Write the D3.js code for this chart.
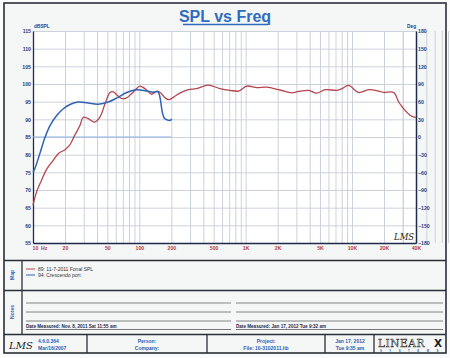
<!DOCTYPE html>
<html>
<head>
<meta charset="utf-8">
<script src="https://cdn.jsdelivr.net/npm/d3@7"></script>
<style>
  body { margin: 0; background: #ffffff; }
  svg { display: block; font-family: "Liberation Sans", Arial, sans-serif; }
</style>
</head>
<body>
<svg id="chart" width="450" height="358"></svg>
<script>
// measured curves
const freqRed = [10, 10.8, 12, 13.5, 15.5, 17.5, 20, 22, 24.8, 27.7, 29.7, 33, 38, 42.7, 47.6, 53, 57, 62, 68, 75, 84, 95, 101, 113, 131, 148, 162, 176, 192, 210, 241, 289, 345, 443, 572, 712, 856, 1025, 1276, 1580, 2100, 2720, 3140, 3935, 4645, 5620, 7225, 8060, 9280, 11550, 14350, 17850, 19900, 24700, 27500, 30600, 35400, 40000];
const splRed = [65.7, 69.4, 72.7, 76, 78.4, 80.4, 81.4, 82.6, 85.6, 88.3, 90.6, 90.2, 89.2, 90.7, 94.4, 97.6, 97.8, 96.8, 95.9, 96.0, 97.2, 98.8, 99.4, 98.7, 97.1, 98.0, 97.2, 96.0, 95.6, 96.3, 97.4, 98.4, 98.7, 99.7, 98.7, 98.2, 98.0, 99.4, 99.0, 99.1, 98.3, 97.5, 97.9, 98.2, 97.4, 98.4, 98.2, 98.7, 99.6, 97.6, 98.4, 98.0, 97.6, 97.6, 94.9, 93.0, 91.1, 90.5];

const freqBlue = [10, 10.4, 11.6, 13, 14.5, 16.7, 19.3, 22.3, 26.6, 33, 41, 51, 61, 76, 94, 117, 135, 150, 156, 160, 165, 172, 181, 194, 202];
const splBlue = [75, 76, 80.3, 85, 88.3, 91.1, 93, 94.2, 94.9, 94.6, 94.3, 94.9, 96, 97.6, 98.4, 98, 97.7, 97.8, 96.4, 94.4, 91.8, 90.3, 89.9, 89.7, 90.1];

const freqRef = [10, 200];
const splRef = [85, 85];

const splTicks = [55, 60, 65, 70, 75, 80, 85, 90, 95, 100, 105, 110, 115];
const degTicks = [-180, -150, -120, -90, -60, -30, 0, 30, 60, 90, 120, 150, 180];
const freqTicks = [10, 20, 50, 100, 200, 500, 1000, 2000, 5000, 10000, 20000, 40000];
const freqLabels = ["10", "20", "50", "100", "200", "500", "1K", "2K", "5K", "10K", "20K", "40K"];

const legendNames = ["89: 11-7-2011 Fonal SPL", "94: Crescendo port"];

const svg = d3.select("#chart");
const navy = "#1f3f86";
const blueText = "#2b5fb4";
const red = "#b4474e";
const blue = "#2f62b4";

// page
svg.append("rect").attr("x", 0).attr("y", 0).attr("width", 450).attr("height", 358).attr("fill", "#fbfbfb");
svg.append("rect").attr("x", 4).attr("y", 3).attr("width", 442).attr("height", 350)
  .attr("fill", "#f5f7f7").attr("stroke", "#2a2e36").attr("stroke-width", 1.6);

// title
svg.append("text").attr("x", 225).attr("y", 22).attr("text-anchor", "middle")
  .attr("font-size", 16).attr("font-weight", "bold").attr("fill", "#2f6cc0")
  .text("SPL vs Freq");
svg.append("line").attr("x1", 183).attr("x2", 268).attr("y1", 24.5).attr("y2", 24.5)
  .attr("stroke", "#2f6cc0").attr("stroke-width", 1.3);

const plotLeft = 33, plotRight = 416, plotTop = 31, plotBottom = 243;
const x = d3.scaleLog().domain([10, 40000]).range([plotLeft, plotRight]);
const y = d3.scaleLinear().domain([55, 115]).range([plotBottom, plotTop]);
const yDeg = d3.scaleLinear().domain([-180, 180]).range([plotBottom, plotTop]);

svg.append("rect").attr("x", plotLeft).attr("y", plotTop)
  .attr("width", plotRight - plotLeft).attr("height", plotBottom - plotTop).attr("fill", "#ffffff");

// grid
const gridFreqs = [];
for (let dec = 10; dec <= 10000; dec *= 10) {
  for (let k = 1; k <= 9; k++) gridFreqs.push(dec * k);
}
gridFreqs.push(20000, 30000, 40000);

svg.append("g")
  .attr("transform", `translate(0,${plotBottom})`)
  .call(d3.axisBottom(x).tickValues(gridFreqs).tickSize(-(plotBottom - plotTop)).tickFormat(""))
  .call(g => g.select(".domain").remove())
  .call(g => g.selectAll("line").attr("stroke", "#ccd2db").attr("stroke-width", 1));

svg.append("g")
  .attr("transform", `translate(${plotLeft},0)`)
  .call(d3.axisLeft(y).tickValues(splTicks).tickSize(-(plotRight - plotLeft)).tickFormat(""))
  .call(g => g.select(".domain").remove())
  .call(g => g.selectAll("line").attr("stroke", "#ccd2db").attr("stroke-width", 1));

// axes
svg.append("g")
  .attr("transform", `translate(${plotLeft},0)`)
  .call(d3.axisLeft(y).tickValues(splTicks).tickSize(0).tickPadding(2))
  .call(g => g.select(".domain").attr("stroke", "#1d2a4a").attr("stroke-width", 1.3))
  .call(g => g.selectAll("text").attr("font-size", 5.2).attr("font-weight", "bold").attr("fill", navy).attr("font-family", "Liberation Sans, Arial, sans-serif"));

svg.append("g")
  .attr("transform", `translate(${plotRight},0)`)
  .call(d3.axisRight(yDeg).tickValues(degTicks).tickSize(0).tickPadding(2))
  .call(g => g.select(".domain").attr("stroke", "#1d2a4a").attr("stroke-width", 1.5))
  .call(g => g.selectAll("text").attr("font-size", 5.2).attr("font-weight", "bold").attr("fill", navy).attr("font-family", "Liberation Sans, Arial, sans-serif"));

svg.append("g")
  .attr("transform", `translate(0,${plotBottom})`)
  .call(d3.axisBottom(x).tickValues(freqTicks).tickSize(0).tickPadding(3)
    .tickFormat((d, i) => freqLabels[i]))
  .call(g => g.select(".domain").attr("stroke", "#1d2a4a").attr("stroke-width", 1.3))
  .call(g => g.selectAll("text").attr("font-size", 5.2).attr("font-weight", "bold").attr("fill", "#b23a3f").attr("font-family", "Liberation Sans, Arial, sans-serif"))
  .call(g => g.selectAll(".tick").filter(d => d === 10).select("text").attr("text-anchor", "start").attr("dx", -1));

svg.append("text").attr("x", 41).attr("y", 249.5).attr("font-size", 5.2).attr("font-weight", "bold")
  .attr("fill", "#b23a3f").text("Hz");

svg.append("text").attr("x", 34).attr("y", 28).attr("font-size", 4.8).attr("font-weight", "bold")
  .attr("fill", navy).text("dBSPL");
svg.append("text").attr("x", 407).attr("y", 28).attr("font-size", 4.8).attr("font-weight", "bold")
  .attr("fill", navy).text("Deg");

// curves
const line = d3.line()
  .x(d => x(d[0]))
  .y(d => y(d[1]))
  .curve(d3.curveCatmullRom.alpha(0.5));

svg.append("path").datum(d3.zip(freqRef, splRef)).attr("d", line)
  .attr("fill", "none").attr("stroke", "#8db2e6").attr("stroke-width", 1.2);
svg.append("path").datum(d3.zip(freqRed, splRed)).attr("d", line)
  .attr("fill", "none").attr("stroke", red).attr("stroke-width", 1.3);
svg.append("path").datum(d3.zip(freqBlue, splBlue)).attr("d", line)
  .attr("fill", "none").attr("stroke", blue).attr("stroke-width", 1.5);

// handwritten mark in the plot corner
svg.append("text").attr("x", 394).attr("y", 240).attr("font-size", 8.5)
  .attr("font-family", "DejaVu Serif, serif").attr("font-style", "italic").attr("fill", "#222")
  .text("LMS");

// section frames
const frame = "#2a2e36";
[260.5, 290.5, 334.5].forEach(yy => {
  svg.append("line").attr("x1", 4).attr("x2", 446).attr("y1", yy).attr("y2", yy)
    .attr("stroke", frame).attr("stroke-width", 1.6);
});
svg.append("line").attr("x1", 22).attr("x2", 22).attr("y1", 260.5).attr("y2", 334.5)
  .attr("stroke", frame).attr("stroke-width", 1.3);
[87, 207, 325, 374].forEach(xx => {
  svg.append("line").attr("x1", xx).attr("x2", xx).attr("y1", 334.5).attr("y2", 353)
    .attr("stroke", frame).attr("stroke-width", 1.3);
});

// side labels
[["Map", 275], ["Notes", 312]].forEach(([t, cy]) => {
  svg.append("text").attr("transform", `translate(14,${cy}) rotate(-90)`)
    .attr("text-anchor", "middle").attr("font-size", 5).attr("font-weight", "bold")
    .attr("fill", blueText).text(t);
});

// legend
const legColors = [red, blue];
legendNames.forEach((name, i) => {
  const ly = 269 + i * 6;
  svg.append("line").attr("x1", 26).attr("x2", 35).attr("y1", ly).attr("y2", ly)
    .attr("stroke", legColors[i]).attr("stroke-width", 1);
  svg.append("text").attr("x", 38).attr("y", ly + 1.8).attr("font-size", 5)
    .attr("fill", "#333").text(name);
});

// notes lines
[303, 312, 321].forEach(yy => {
  svg.append("line").attr("x1", 26).attr("x2", 231).attr("y1", yy).attr("y2", yy)
    .attr("stroke", "#666").attr("stroke-width", 0.8);
  svg.append("line").attr("x1", 236).attr("x2", 443).attr("y1", yy).attr("y2", yy)
    .attr("stroke", "#666").attr("stroke-width", 0.8);
});
svg.append("line").attr("x1", 26).attr("x2", 231).attr("y1", 329.5).attr("y2", 329.5)
  .attr("stroke", "#555").attr("stroke-width", 0.8);
svg.append("line").attr("x1", 236).attr("x2", 443).attr("y1", 329.5).attr("y2", 329.5)
  .attr("stroke", "#555").attr("stroke-width", 0.8);
svg.append("text").attr("x", 26).attr("y", 328).attr("font-size", 4.6).attr("font-weight", "bold")
  .attr("fill", "#1d2a4a").text("Date Measured: Nov. 8, 2011  Sat 11:55 am");
svg.append("text").attr("x", 236).attr("y", 328).attr("font-size", 4.6).attr("font-weight", "bold")
  .attr("fill", "#1d2a4a").text("Date Measured: Jan 17, 2012  Tue 9:32 am");

// footer
svg.append("text").attr("x", 9).attr("y", 349).attr("font-size", 10)
  .attr("font-family", "DejaVu Serif, serif").attr("font-style", "italic").attr("fill", "#222")
  .text("LMS");
const foot = (tx, ty, t, anchor) => svg.append("text").attr("x", tx).attr("y", ty)
  .attr("text-anchor", anchor || "middle").attr("font-size", 5).attr("font-weight", "bold")
  .attr("fill", blueText).text(t);
foot(38, 343, "4.6.0.364", "start");
foot(38, 350, "Mar/16/2007", "start");
foot(147, 343, "Person:");
foot(147, 350, "Company:");
foot(266, 343, "Project:");
foot(266, 350, "File: 10-3102011.lib");
foot(350, 343, "Jan 17, 2012");
foot(350, 350, "Tue  9:35 am");

// Linearx logo
svg.append("text").attr("x", 378).attr("y", 347).attr("font-size", 10.5)
  .attr("font-family", "DejaVu Serif, serif").attr("fill", "none")
  .attr("stroke", "#333").attr("stroke-width", 0.5).attr("letter-spacing", 0.6)
  .text("LINEAR");
svg.append("text").attr("x", 434).attr("y", 347).attr("font-size", 10.5).attr("font-weight", "bold")
  .attr("font-family", "DejaVu Sans, sans-serif").attr("fill", "#222").text("X");
svg.append("text").attr("x", 380).attr("y", 351.5).attr("font-size", 2.8).attr("font-weight", "bold")
  .attr("fill", blueText).attr("letter-spacing", 7.5).text("SYSTEMS");
</script>
</body>
</html>
